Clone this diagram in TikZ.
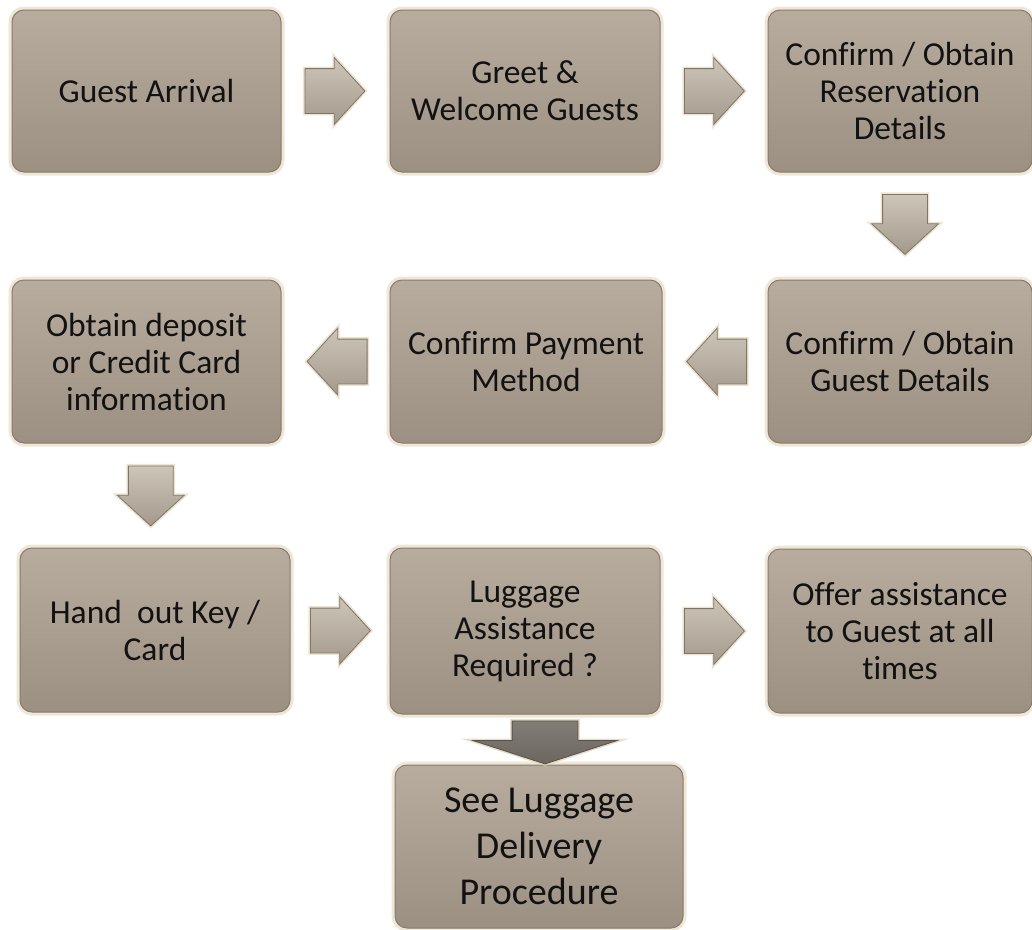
\documentclass[tikz,border=0pt]{standalone}
\usepackage{fontspec}
\setmainfont{Carlito}[Ligatures={NoCommon}]
\usetikzlibrary{shapes.arrows,calc}

\definecolor{boxtop}{HTML}{B8AC9E}
\definecolor{boxbot}{HTML}{9C9083}
\definecolor{boxedge}{HTML}{867B6F}
\definecolor{glow}{HTML}{E4D2B4}
\definecolor{arrtop}{HTML}{CEC5B9}
\definecolor{arrbot}{HTML}{A3998D}
\definecolor{arredge}{HTML}{7E7468}
\definecolor{bigarr}{HTML}{6C665F}
\definecolor{ink}{HTML}{121212}

\tikzset{
  stepbox/.style={rounded corners=12pt, top color=boxtop, bottom color=boxbot,
    draw=boxedge, line width=1pt, text=ink, align=center, inner sep=0pt,
    minimum width=270pt, minimum height=163pt,
    font=\fontsize{33.5}{37}\selectfont,
    preaction={draw=glow, line width=7pt, opacity=0.55, rounded corners=12pt}},
  blockarrow/.style={single arrow, single arrow head extend=11pt,
    single arrow tip angle=95,
    top color=arrtop, bottom color=arrbot, draw=arredge, line width=0.8pt,
    preaction={draw=glow, line width=4pt, opacity=0.6}},
  rightarrow/.style={blockarrow, inner xsep=0pt, inner ysep=22pt,
    minimum height=60pt, anchor=tail},
  leftarrow/.style={rightarrow, shape border rotate=180},
  downarrow/.style={blockarrow, shape border rotate=270, inner xsep=22pt,
    inner ysep=0pt, minimum height=60pt, minimum width=60pt, anchor=tail},
}

\begin{document}
\begin{tikzpicture}[x=1pt, y=-1pt]
\useasboundingbox (0,0) rectangle (1032,929);
\fill[white] (0,0) rectangle (1032,929);

% row 1
\node[stepbox, minimum width=269pt, minimum height=162pt] (arrival) at (146.5,91) {Guest Arrival};
\node[stepbox, minimum height=162pt] (greet) at (525,91) {Greet \&\\Welcome Guests};
\node[stepbox, minimum width=264pt, minimum height=162pt] (reserv) at (900,91) {Confirm / Obtain\\Reservation\\Details};

% row 2
\node[stepbox, minimum width=264pt] (guest) at (900,361.5) {Confirm / Obtain\\Guest Details};
\node[stepbox, minimum width=272pt] (payment) at (526,361.5) {Confirm Payment\\Method};
\node[stepbox, minimum width=269pt] (deposit) at (146.5,361.5) {Obtain deposit\\or Credit Card\\information};

% row 3
\node[stepbox, minimum height=164pt] (key) at (155,630) {Hand\ \ out Key /\\Card};
\node[stepbox, minimum height=166pt] (luggage) at (525,631) {Luggage\\Assistance\\Required ?};
\node[stepbox, minimum width=264pt, minimum height=164pt] (offer) at (900,631) {Offer assistance\\to Guest at all\\times};

% final step
\node[stepbox, minimum width=288pt, minimum height=163pt,
      font=\fontsize{38}{46}\selectfont] (delivery) at (539,846.5) {See Luggage\\Delivery\\Procedure};

% flow arrows
\node[rightarrow] (a1) at ($(arrival.east)!.5!(greet.west)+(-31,0)$) {};
\node[rightarrow] (a2) at ($(greet.east)!.5!(reserv.west)+(-30,0)$) {};
\node[downarrow]  (a3) at ($(reserv.south)!.5!(guest.north)+(5,-32)$) {};
\node[leftarrow]  (a4) at ($(guest.west)!.5!(payment.east)+(32,0)$) {};
\node[leftarrow]  (a5) at ($(payment.west)!.5!(deposit.east)+(32,0)$) {};
\node[downarrow]  (a6) at ($(deposit.south)!.5!(key.north)+(0,-30)$) {};
\node[rightarrow] (a7) at ($(key.east)!.5!(luggage.west)+(-30,0)$) {};
\node[rightarrow] (a8) at ($(luggage.east)!.5!(offer.west)+(-30,0)$) {};
\node[downarrow, minimum height=43pt, minimum width=43pt, inner xsep=32.5pt,
      single arrow head extend=39pt, single arrow tip angle=144,
      top color=bigarr!85!white, bottom color=bigarr, draw=bigarr!80!black,
      preaction={draw=glow, line width=3pt, opacity=0.4}]
      (a9) at ($(luggage.south)!.5!(delivery.north)+(13,-19)$) {};
\end{tikzpicture}
\end{document}
